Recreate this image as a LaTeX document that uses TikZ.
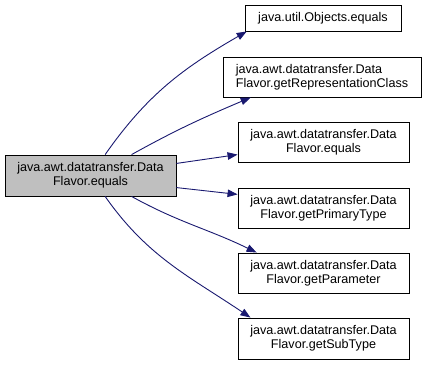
\documentclass[tikz,border=0pt]{standalone}
\usepackage{fontspec}
\setmainfont{Liberation Sans}
\usetikzlibrary{arrows.meta}
\definecolor{edgeblue}{HTML}{191970}
\definecolor{mainfill}{HTML}{BFBFBF}

\begin{document}
\begin{tikzpicture}[x=1pt,y=1pt,
  fn/.style={draw=black,line width=0.9pt,inner sep=0pt,minimum width=171pt,minimum height=40pt,align=center,font=\fontsize{12.6}{14}\selectfont},
  call/.style={draw=edgeblue,line width=0.9pt,-{Triangle[length=10pt,width=7.5pt,fill=edgeblue]}}]
\useasboundingbox (0,0) rectangle (428,-365);
\node[fn,fill=mainfill,minimum height=41pt] (main) at (90.5,-175.5) {java.awt.datatransfer.Data\\Flavor.equals};
\node[fn,minimum width=156pt,minimum height=26pt] (objeq) at (323,-18) {java.util.Objects.equals};
\node[fn,minimum width=198pt,align=left] (getrep) at (322,-77) {java.awt.datatransfer.Data\\Flavor.getRepresentationClass};
\node[fn] (eq) at (323.5,-142.5) {java.awt.datatransfer.Data\\Flavor.equals};
\node[fn] (prim) at (323.5,-208) {java.awt.datatransfer.Data\\Flavor.getPrimaryType};
\node[fn] (param) at (323.5,-273) {java.awt.datatransfer.Data\\Flavor.getParameter};
\node[fn,minimum height=41pt] (sub) at (323.5,-338.5) {java.awt.datatransfer.Data\\Flavor.getSubType};
\draw[call] (main.55) to[out=55,in=210] (objeq.190);
\draw[call] (main.27) to[out=29,in=203] (getrep.196);
\draw[call] (main.8) -- (eq.188);
\draw[call] (main.-8) -- (prim.171);
\draw[call] (main.-27) to[out=-29,in=154] (param.163);
\draw[call] (main.-55) to[out=-55,in=146] (sub.164);
\end{tikzpicture}
\end{document}
